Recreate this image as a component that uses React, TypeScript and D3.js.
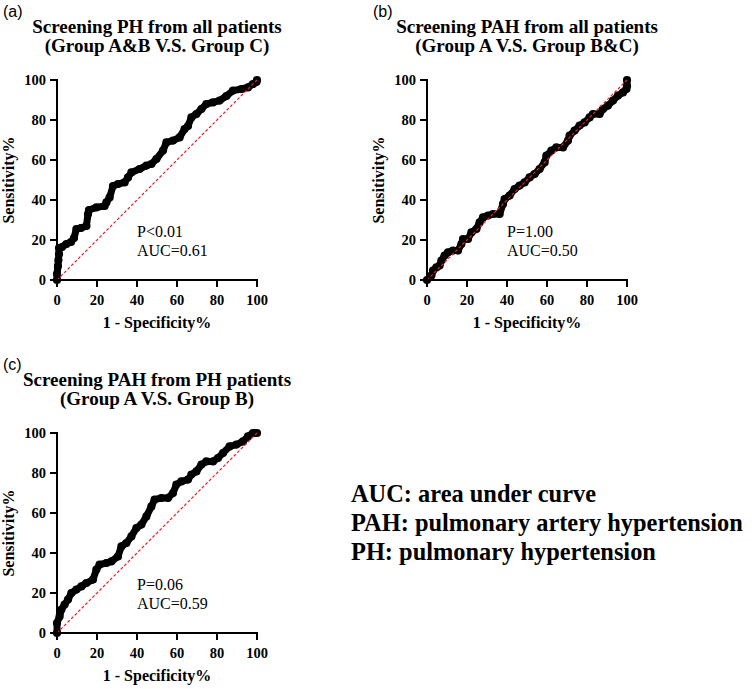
import * as d3 from "d3";

// axis ticks shared by all three ROC plots
const ticks = [0, 20, 40, 60, 80, 100];

// (a) Group A&B vs Group C
const fprA = [0, 0, 0.5, 0.7, 1, 1, 2.5, 4.7, 7, 8.5, 9.7, 12, 14.7, 15.5, 16, 19.7, 23.8, 24.7, 26.3, 28, 30.5, 33.8, 35.5, 37.2, 41.3, 44.7, 47.2, 49.7, 53, 54.7, 58, 61.3, 63.8, 65.5, 67.2, 69.7, 72.2, 74.7, 78, 81.3, 84.7, 88, 92.2, 95.5, 98, 99.7, 100];
const tprA = [0, 3, 7, 10, 13, 16, 16.5, 18, 19, 21, 25.5, 26, 27, 33, 35, 36.3, 37, 38.8, 41.3, 47, 48, 48.8, 51.3, 53.8, 55.5, 57.2, 58, 60.5, 64.7, 68.8, 69.7, 71.3, 75.5, 77, 81.3, 83, 85.5, 88, 88.8, 89.7, 92, 94.7, 95.5, 96.3, 98, 99, 100];

// (b) Group A vs Group B&C
const fprB = [0, 2.2, 3, 4.7, 6.3, 7.2, 8.8, 10.5, 13, 15.5, 17.2, 18, 20.5, 22.2, 24.7, 26.3, 28, 30.5, 33, 36.3, 38, 38.8, 41.3, 43.8, 46.3, 48.8, 51.3, 53.8, 56.3, 58.8, 59.7, 62.2, 64.7, 68, 70.5, 71.3, 73.8, 76.3, 78.8, 81.3, 83, 86.3, 88, 90.5, 93, 95.5, 98, 99.7, 100, 100];
const tprB = [0, 2.2, 4.7, 6.3, 7.2, 9.7, 12.2, 13.8, 14.7, 14.7, 18, 20.5, 20.5, 23.8, 25.5, 28.8, 31.3, 32.2, 33, 33, 38, 40.5, 42.2, 45.5, 47.2, 48.8, 51.3, 53, 55.5, 58.8, 62.2, 64.7, 66.3, 66.3, 69.7, 72.2, 74.7, 77.2, 78.8, 81.3, 83, 83, 85.5, 87.2, 89.7, 92.2, 93.8, 95.5, 97, 100];

// (c) Group A vs Group B
const fprC = [0, 0, 1.3, 2.2, 3.8, 5.5, 7.2, 9.7, 12.2, 14.7, 18, 19.7, 21.3, 24.7, 27.2, 30.5, 32.2, 34.7, 37.2, 39.7, 42.2, 44.7, 47.2, 48.8, 52.2, 55.5, 58, 59.7, 62.2, 65.5, 67.2, 69.7, 72.2, 74.7, 78, 80.5, 83, 86.3, 89.7, 93, 95.5, 98, 100];
const tprC = [0, 5, 8.3, 11.7, 14.2, 16.7, 20, 21.7, 23.3, 25, 26.7, 31.7, 34.2, 35, 35.8, 38.3, 43.3, 45, 48.3, 52.5, 54.2, 58.3, 63.3, 66.7, 67.5, 67.5, 70, 74.2, 75.8, 76.7, 79.2, 80.8, 84.2, 85.8, 85.8, 87.5, 90, 93.3, 94.2, 95.8, 98.3, 100, 100];

const glossary = [
  "AUC: area under curve",
  "PAH: pulmonary artery hypertension",
  "PH: pulmonary hypertension",
];

const serif = "'Liberation Serif', 'Times New Roman', serif";
const sans = "'Liberation Sans', Arial, sans-serif";

type PanelProps = {
  tag: string;
  title: string[];
  pText: string;
  aucText: string;
  fpr: number[];
  tpr: number[];
  left: number;
  top: number;
};

function RocPanel({ tag, title, pText, aucText, fpr, tpr, left, top }: PanelProps) {
  const size = 200;
  const x = d3.scaleLinear().domain([0, 100]).range([0, size]);
  const y = d3.scaleLinear().domain([0, 100]).range([size, 0]);
  const pts: [number, number][] = fpr.map((f, i) => [f, tpr[i]]);
  const line = d3
    .line<[number, number]>()
    .x((d) => x(d[0]))
    .y((d) => y(d[1]));

  return (
    <g transform={`translate(${left},${top})`}>
      <text x={-54} y={-63} fontFamily={sans} fontSize={16}>
        {tag}
      </text>
      {title.map((t, i) => (
        <text
          key={i}
          x={size / 2}
          y={-47 + i * 19}
          textAnchor="middle"
          fontFamily={serif}
          fontWeight="bold"
          fontSize={19}
        >
          {t}
        </text>
      ))}

      {/* curve */}
      <path d={line(pts) || ""} fill="none" stroke="#000" strokeWidth={7} strokeLinejoin="round" />
      {pts.map((d, i) => (
        <circle key={i} cx={x(d[0])} cy={y(d[1])} r={4.1} fill="#000" />
      ))}

      {/* chance line */}
      <line
        x1={x(0)}
        y1={y(0)}
        x2={x(100)}
        y2={y(100)}
        stroke="#e8202a"
        strokeWidth={1.2}
        strokeDasharray="3,2"
      />

      {/* axes */}
      <line x1={0} y1={size} x2={size} y2={size} stroke="#000" strokeWidth={2} strokeLinecap="square" />
      <line x1={0} y1={0} x2={0} y2={size} stroke="#000" strokeWidth={2} strokeLinecap="square" />
      {ticks.map((t) => (
        <g key={"x" + t}>
          <line x1={x(t)} y1={size} x2={x(t)} y2={size + 7} stroke="#000" strokeWidth={2} />
          <text
            x={x(t)}
            y={size + 24.5}
            textAnchor="middle"
            fontFamily={serif}
            fontWeight="bold"
            fontSize={14.5}
          >
            {t}
          </text>
        </g>
      ))}
      {ticks.map((t) => (
        <g key={"y" + t}>
          <line x1={-7} y1={y(t)} x2={0} y2={y(t)} stroke="#000" strokeWidth={2} />
          <text
            x={-11}
            y={y(t) + 5}
            textAnchor="end"
            fontFamily={serif}
            fontWeight="bold"
            fontSize={14.5}
          >
            {t}
          </text>
        </g>
      ))}
      <text
        x={size / 2}
        y={size + 48}
        textAnchor="middle"
        fontFamily={serif}
        fontWeight="bold"
        fontSize={16}
      >
        1 - Specificity%
      </text>
      <text
        transform={`translate(-43,${size / 2}) rotate(-90)`}
        textAnchor="middle"
        fontFamily={serif}
        fontWeight="bold"
        fontSize={16}
      >
        Sensitivity%
      </text>

      <text x={80} y={157} fontFamily={serif} fontSize={16}>
        {pText}
      </text>
      <text x={80} y={175.5} fontFamily={serif} fontSize={16}>
        {aucText}
      </text>
    </g>
  );
}

export default function App() {
  return (
    <svg
      width={752}
      height={689}
      style={{ position: "absolute", left: 0, top: 0, background: "#fff" }}
    >
      <RocPanel
        tag="(a)"
        title={["Screening PH from all patients", "(Group A&B V.S. Group C)"]}
        pText="P<0.01"
        aucText="AUC=0.61"
        fpr={fprA}
        tpr={tprA}
        left={57}
        top={80}
      />
      <RocPanel
        tag="(b)"
        title={["Screening PAH from all patients", "(Group A V.S. Group B&C)"]}
        pText="P=1.00"
        aucText="AUC=0.50"
        fpr={fprB}
        tpr={tprB}
        left={427}
        top={80}
      />
      <RocPanel
        tag="(c)"
        title={["Screening PAH from PH patients", "(Group A V.S. Group B)"]}
        pText="P=0.06"
        aucText="AUC=0.59"
        fpr={fprC}
        tpr={tprC}
        left={57}
        top={433}
      />
      {glossary.map((g, i) => (
        <text
          key={i}
          x={351}
          y={502 + i * 29}
          fontFamily={serif}
          fontWeight="bold"
          fontSize={24.4}
        >
          {g}
        </text>
      ))}
    </svg>
  );
}
